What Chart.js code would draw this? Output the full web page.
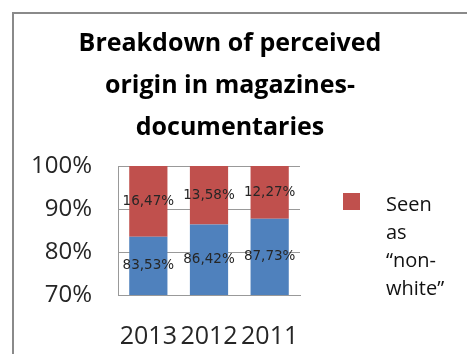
<!DOCTYPE html>
<html>
<head>
<meta charset="utf-8">
<script src="https://cdn.jsdelivr.net/npm/chart.js@4.4.1/dist/chart.umd.min.js"></script>
<style>
  html, body { margin: 0; padding: 0; background: #fff; overflow: hidden; }
</style>
</head>
<body>
<canvas id="origin" width="467" height="354"></canvas>
<script>
const years = ["2013", "2012", "2011"];
const seenWhite = [83.53, 86.42, 87.73];
const seenNonWhite = [16.47, 13.58, 12.27];
const yTicks = [70, 80, 90, 100];

const gridColor = "#999999";

// "83.53" -> "83,53%"
function pct(v) {
  return v.toFixed(2).replace(".", ",") + "%";
}

// white page and the grey frame along the top and left
const frame = {
  id: "frame",
  beforeDraw(chart) {
    const { ctx, width, height } = chart;
    ctx.save();
    ctx.fillStyle = "#ffffff";
    ctx.fillRect(0, 0, width, height);
    ctx.fillStyle = "#8a8a8a";
    ctx.fillRect(12, 12, 2, height - 12);
    ctx.fillRect(12, 12, width - 12, 2);
    ctx.restore();
  },
};

// value labels centred in the visible part of each segment
const segmentLabels = {
  id: "segmentLabels",
  afterDatasetsDraw(chart) {
    const { ctx, chartArea } = chart;
    ctx.save();
    ctx.font = '13.5px "DejaVu Sans"';
    ctx.fillStyle = "#262626";
    ctx.textAlign = "center";
    ctx.textBaseline = "middle";
    chart.data.datasets.forEach((ds, i) => {
      chart.getDatasetMeta(i).data.forEach((bar, j) => {
        const top = Math.max(Math.min(bar.y, bar.base), chartArea.top);
        const bottom = Math.min(Math.max(bar.y, bar.base), chartArea.bottom);
        ctx.fillText(pct(ds.data[j]), bar.x, (top + bottom) / 2);
      });
    });
    ctx.restore();
  },
};

// split a legend label on spaces and after hyphens so it fits a narrow column
function wrapLabel(ctx, text, maxWidth) {
  const tokens = text.match(/[^ -]+-?/g) || [];
  const lines = [];
  let line = "";
  tokens.forEach((tok) => {
    const sep = line === "" || line.endsWith("-") ? "" : " ";
    const test = line + sep + tok;
    if (line !== "" && ctx.measureText(test).width > maxWidth) {
      lines.push(line);
      line = tok;
    } else {
      line = test;
    }
  });
  if (line) lines.push(line);
  return lines;
}

// legend to the right of the plot, wrapped text next to a colour square
const sideLegend = {
  id: "sideLegend",
  afterDraw(chart) {
    const { ctx, chartArea } = chart;
    const x = chartArea.right + 43;
    const y = chartArea.top + 27;
    ctx.save();
    ctx.font = '20px "Open Sans"';
    ctx.textAlign = "left";
    ctx.textBaseline = "alphabetic";
    chart.data.datasets.forEach((ds) => {
      if (ds.hideInLegend) return;
      ctx.fillStyle = ds.backgroundColor;
      ctx.fillRect(x, y, 17, 17);
      ctx.fillStyle = "#111111";
      wrapLabel(ctx, ds.label, 62).forEach((ln, k) => {
        ctx.fillText(ln, x + 43, y + 17.5 + k * 28);
      });
    });
    ctx.restore();
  },
};

new Chart(document.getElementById("origin"), {
  type: "bar",
  data: {
    labels: years,
    datasets: [
      {
        label: "Seen as “white”",
        data: seenWhite,
        backgroundColor: "#4F81BD",
        hideInLegend: true,
      },
      {
        label: "Seen as “non-white”",
        data: seenNonWhite,
        backgroundColor: "#C0504D",
      },
    ],
  },
  options: {
    responsive: false,
    animation: false,
    layout: { padding: { left: 0, right: 7, top: 0, bottom: 0 } },
    datasets: {
      bar: { barPercentage: 0.63, categoryPercentage: 1 },
    },
    plugins: {
      legend: { display: false },
      tooltip: { enabled: false },
      title: {
        display: true,
        text: ["Breakdown of perceived", "origin in magazines-", "documentaries"],
        color: "#000000",
        font: { family: "Open Sans", size: 25, weight: "bold", lineHeight: 1.68 },
        padding: { top: 23, bottom: 17 },
      },
    },
    scales: {
      x: {
        stacked: true,
        grid: { display: false },
        border: { display: true, color: gridColor },
        ticks: {
          color: "#262626",
          padding: 19,
          maxRotation: 0,
          minRotation: 0,
          autoSkip: false,
          font: { family: "Open Sans", size: 25 },
        },
        afterFit(scale) {
          scale.height = 59;
        },
      },
      y: {
        stacked: true,
        min: 70,
        max: 100,
        grid: { color: gridColor, drawTicks: false },
        border: { display: true, color: gridColor },
        ticks: {
          color: "#262626",
          padding: 26,
          font: { family: "Open Sans", size: 24 },
          callback: (v) => v + "%",
        },
        afterBuildTicks(scale) {
          scale.ticks = yTicks.map((v) => ({ value: v }));
        },
        afterFit(scale) {
          scale.width = 118;
        },
      },
      // empty axis that keeps room for the legend column
      legendSpace: {
        type: "linear",
        position: "right",
        grid: { display: false, drawOnChartArea: false },
        border: { display: false, color: "rgba(0,0,0,0)" },
        ticks: { display: false },
        afterFit(scale) {
          scale.width = 160;
        },
      },
    },
  },
  plugins: [frame, segmentLabels, sideLegend],
});
</script>
</body>
</html>
